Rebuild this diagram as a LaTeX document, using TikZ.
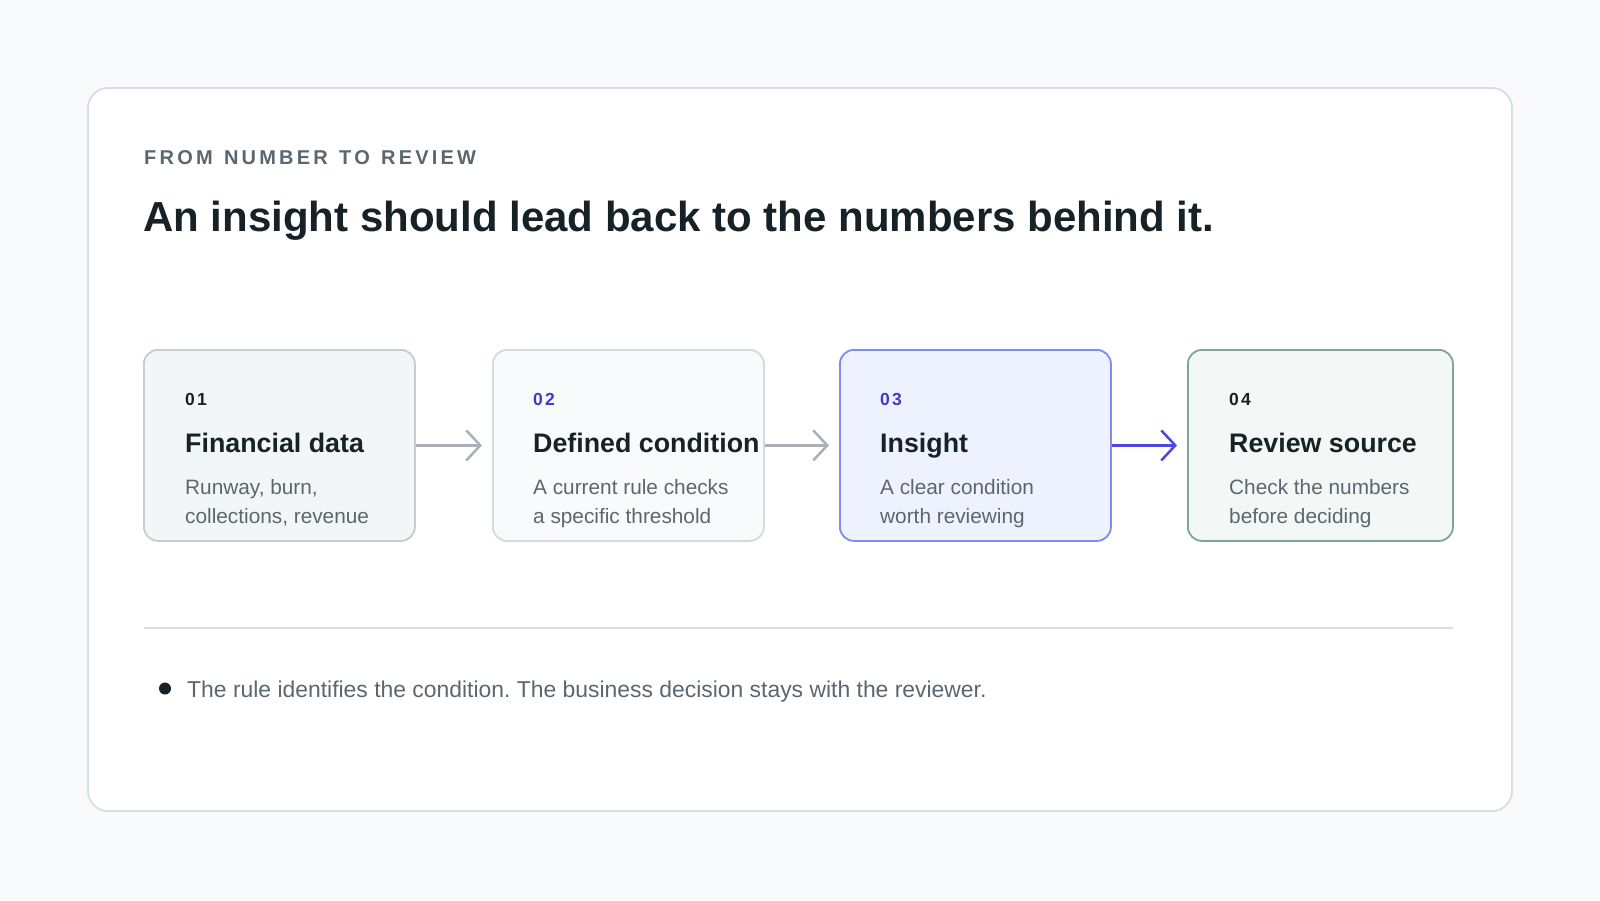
\documentclass[tikz,border=0pt]{standalone}
\usepackage{fontspec}
\setmainfont{Liberation Sans}
\newfontfamily\trackfont[LetterSpace=16,WordSpace=1.3]{Liberation Sans}
\newfontfamily\numfont[LetterSpace=12]{Liberation Sans}
\usetikzlibrary{arrows.meta}
\frenchspacing
\definecolor{bgc}{HTML}{F8FAFC}
\definecolor{cardline}{HTML}{D6DEE6}
\definecolor{darktxt}{HTML}{172228}
\definecolor{graytxt}{HTML}{5B6770}
\definecolor{indigotxt}{HTML}{4338CA}
\definecolor{fillA}{HTML}{F3F6F6}
\definecolor{lineA}{HTML}{C4CDD1}
\definecolor{fillB}{HTML}{F8FAFC}
\definecolor{lineB}{HTML}{D3DAE0}
\definecolor{fillC}{HTML}{EEF2FF}
\definecolor{lineC}{HTML}{8189F2}
\definecolor{fillD}{HTML}{F3F7F5}
\definecolor{lineD}{HTML}{7FA596}
\definecolor{arrgray}{HTML}{A9B1B6}
\definecolor{arrblue}{HTML}{4F46E5}
\tikzset{
  stepbox/.style={rectangle, rounded corners=14pt, line width=1.8pt, minimum height=191pt, anchor=north west, inner sep=0pt},
  numtxt/.style={anchor=base west, inner sep=0pt, font=\numfont\bfseries\fontsize{17.5}{20}\selectfont},
  headtxt/.style={anchor=base west, inner sep=0pt, text=darktxt, font=\bfseries\fontsize{26.8}{32}\selectfont},
  bodytxt/.style={anchor=base west, inner sep=0pt, text=graytxt, font=\fontsize{20.8}{29.5}\selectfont, align=left},
  flowarrow/.style={line width=2.5pt, -{Straight Barb[length=14pt,width=30pt]}, shorten >=10pt},
}
\begin{document}
\begin{tikzpicture}[x=1pt,y=-1pt]
\path[fill=bgc] (0,0) rectangle (1600,900);
\useasboundingbox (0,0) rectangle (1600,900);
% card
\draw[line width=1.8pt, draw=cardline, fill=white, rounded corners=20pt] (88,88) rectangle (1512,811);
% header
\node[anchor=base west, inner sep=0pt, text=graytxt, font=\trackfont\bfseries\fontsize{20}{24}\selectfont] (kicker) at (144,164.5) {FROM NUMBER TO REVIEW};
\node[anchor=base west, inner sep=0pt, text=darktxt, font=\bfseries\fontsize{42}{50}\selectfont] (title) at (143,231) {An insight should lead back to the numbers behind it.};
% boxes
\node[stepbox, fill=fillA, draw=lineA, minimum width=271pt] (b1) at (143,349) {};
\node[stepbox, fill=fillB, draw=lineB, minimum width=271pt] (b2) at (492,349) {};
\node[stepbox, fill=fillC, draw=lineC, minimum width=271pt] (b3) at (839,349) {};
\node[stepbox, fill=fillD, draw=lineD, minimum width=265pt] (b4) at (1187,349) {};
% box texts
\node[numtxt, text=darktxt] (n1) at (185,405) {01};
\node[headtxt] (h1) at (185,452) {Financial data};
\node[bodytxt] (t1a) at (185,494) {Runway, burn,};
\node[bodytxt] (t1b) at (185,523.5) {collections, revenue};
\node[numtxt, text=indigotxt] (n2) at (533,405) {02};
\node[headtxt] (h2) at (533,452) {Defined condition};
\node[bodytxt] (t2a) at (533,494) {A current rule checks};
\node[bodytxt] (t2b) at (533,523.5) {a specific threshold};
\node[numtxt, text=indigotxt] (n3) at (880,405) {03};
\node[headtxt] (h3) at (880,452) {Insight};
\node[bodytxt] (t3a) at (880,494) {A clear condition};
\node[bodytxt] (t3b) at (880,523.5) {worth reviewing};
\node[numtxt, text=darktxt] (n4) at (1229,405) {04};
\node[headtxt] (h4) at (1229,452) {Review source};
\node[bodytxt] (t4a) at (1229,494) {Check the numbers};
\node[bodytxt] (t4b) at (1229,523.5) {before deciding};
% arrows
\draw[flowarrow, draw=arrgray] (b1.east) -- (b2.west);
\draw[flowarrow, draw=arrgray] (b2.east) -- (b3.west);
\draw[flowarrow, draw=arrblue] (b3.east) -- (b4.west);
% divider
\coordinate (dl) at (144,628);
\coordinate (dr) at (1453,628);
\draw[line width=1.8pt, draw=cardline] (dl) -- (dr);
% bullet note
\fill[darktxt] (165,688.5) circle (6pt);
\node[anchor=base west, inner sep=0pt, text=graytxt, font=\fontsize{22.9}{28}\selectfont] (note) at (187,697) {The rule identifies the condition. The business decision stays with the reviewer.};
\end{tikzpicture}
\end{document}
